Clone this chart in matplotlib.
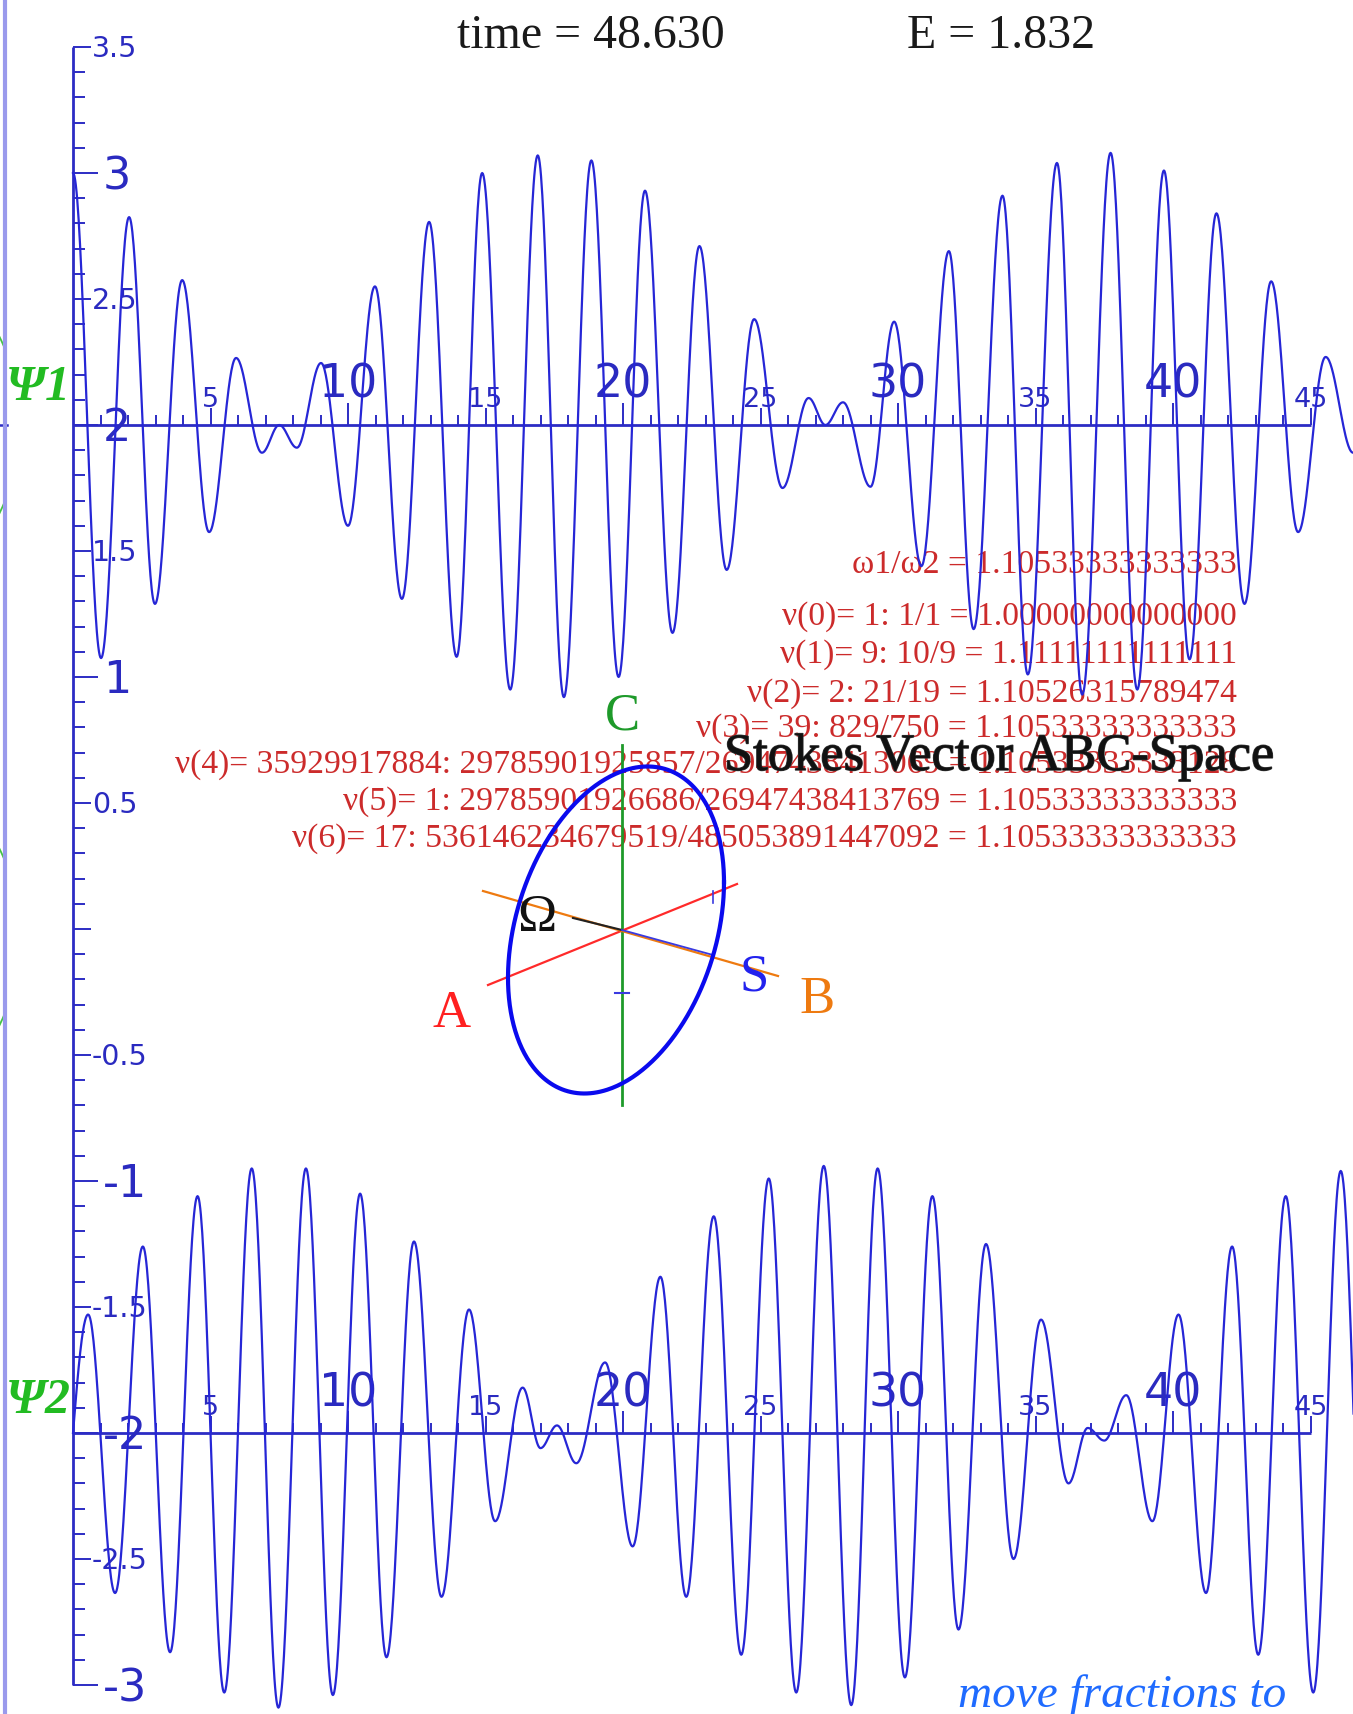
import numpy as np
import matplotlib
matplotlib.use("Agg")
import matplotlib.pyplot as plt
from matplotlib import transforms
from matplotlib import patheffects

W, H, DPI = 1353, 1714, 100

# ---------------- data ----------------
# Psi-1 trace: successive local extrema (time, amplitude)
psi1_t = [0.0, 1.02, 2.04, 2.98, 3.97, 4.95, 5.93, 6.87, 7.5, 8.14, 9.02, 10.0,
          10.98, 11.96, 12.95, 13.95, 14.88, 15.9, 16.9, 17.85, 18.85, 19.84,
          20.8, 21.8, 22.78, 23.77, 24.77, 25.8, 26.75, 27.36, 28.0, 29.0,
          29.86, 30.85, 31.85, 32.75, 33.8, 34.72, 35.78, 36.7, 37.73, 38.7,
          39.67, 40.6, 41.58, 42.6, 43.57, 44.55, 45.55, 46.55]
psi1_v = [3.0, 1.075, 2.825, 1.29, 2.575, 1.575, 2.266, 1.89, 2.0, 1.91, 2.246, 1.60,
          2.55, 1.31, 2.806, 1.08, 3.0, 0.95, 3.07, 0.92, 3.05, 1.0,
          2.93, 1.175, 2.71, 1.425, 2.42, 1.75, 2.107, 2.0, 2.09, 1.755,
          2.41, 1.44, 2.69, 1.19, 2.91, 1.01, 3.04, 0.93, 3.08, 0.95,
          3.01, 1.07, 2.84, 1.29, 2.57, 1.575, 2.27, 1.89]

# Psi-2 trace: starts on its centre line, then successive local extrema
psi2_t = [0.0, 0.55, 1.53, 2.54, 3.53, 4.53, 5.5, 6.5, 7.47, 8.47, 9.45, 10.44,
          11.4, 12.4, 13.4, 14.4, 15.35, 16.35, 17.0, 17.6, 18.3, 19.35, 20.35,
          21.36, 22.3, 23.3, 24.3, 25.3, 26.3, 27.3, 28.3, 29.26, 30.25, 31.25,
          32.2, 33.2, 34.2, 35.2, 36.2, 36.9, 37.5, 38.3, 39.25, 40.2, 41.2,
          42.15, 43.1, 44.1, 45.1, 46.1, 47.08]
psi2_v = [-2.0, -1.53, -2.635, -1.26, -2.87, -1.06, -3.03, -0.95, -3.09, -0.95, -3.04, -1.05,
          -2.89, -1.24, -2.65, -1.51, -2.35, -1.82, -2.06, -1.97, -2.12, -1.72, -2.45,
          -1.38, -2.65, -1.14, -2.88, -0.99, -3.03, -0.94, -3.08, -0.95, -2.97, -1.06,
          -2.78, -1.25, -2.5, -1.55, -2.2, -1.98, -2.03, -1.85, -2.35, -1.53, -2.635,
          -1.26, -2.88, -1.06, -3.03, -0.96, -3.05]

# axis tick values
ytick_big = [3, 2, 1, -1, -2, -3]
ytick_small = [3.5, 2.5, 1.5, 0.5, -0.5, -1.5, -2.5]
xtick_big = [10, 20, 30, 40]
xtick_small = [5, 15, 25, 35, 45]
t_max = 45
psi_centres = [2, -2]

# header readouts
time_now = 48.630
energy = 1.832

# frequency ratio and its continued-fraction convergents
freq_ratio = "1.10533333333333"
cf_index = [0, 1, 2, 3, 4, 5, 6]
cf_terms = [1, 9, 2, 39, 35929917884, 1, 17]
cf_num = [1, 10, 21, 829, 29785901925857, 29785901926686, 536146234679519]
cf_den = [1, 9, 19, 750, 26947438413069, 26947438413769, 485053891447092]

# Stokes-space picture (projected A, B, C axes, polarization ellipse, vectors)
axis_A = [(-1.34, -0.55), (1.15, 0.46)]
axis_B = [(-1.39, 0.39), (1.56, -0.46)]
axis_C = [(0.0, -1.75), (0.0, 1.85)]
ellipse_half = (1.08, 1.635)      # horizontal / vertical half-extent
ellipse_phase = np.deg2rad(73.0)  # phase lag between the two components
ellipse_centre = (-0.06, 0.0)
omega_vec = (-0.49, 0.12)
S_vec = (0.91, -0.25)
mark_plus = (0.91, 0.33)
mark_minus = (0.0, -0.63)

# ---------------- styling ----------------
SERIF = ['Liberation Serif', 'DejaVu Serif']
SANS = ['DejaVu Sans']
AXC = '#2c2cc4'
LBL = '#2a2ac0'
CURVE = '#2626d6'
RED = '#cc2b2b'
GREEN = '#22bb22'

X0, XPX = 73.0, 27.5     # pixel of t=0, pixels per time unit
Y3, YPX = 173.0, 252.0   # pixel of value 3, pixels per value unit
SMALL_Y = 20.5
SMALL_X = 19.5
BIG = 32


def trace(tk, vk, start_on_line=False, n=40):
    ts, vs = [], []
    for i in range(len(tk) - 1):
        s = np.linspace(0, 1, n, endpoint=False)
        if i == 0 and start_on_line:
            w = np.sin(np.pi * s / 2)
        else:
            w = (1 - np.cos(np.pi * s)) / 2
        ts.append(tk[i] + s * (tk[i + 1] - tk[i]))
        vs.append(vk[i] + w * (vk[i + 1] - vk[i]))
    ts.append([tk[-1]])
    vs.append([vk[-1]])
    return np.concatenate(ts), np.concatenate(vs)


fig = plt.figure(figsize=(W / DPI, H / DPI), dpi=DPI)
fig.patch.set_facecolor('white')
pix = transforms.Affine2D().scale(1 / W, -1 / H).translate(0, 1) + fig.transFigure

ax = fig.add_axes([0, 0, 1, 1])
ax.set_xlim(-X0 / XPX, (W - X0) / XPX)
ax.set_ylim(3 - (H - Y3) / YPX, 3 + Y3 / YPX)
ax.axis('off')

# left frame line of the neighbouring panel, with the edges of its green curves
th = np.linspace(-0.7, 0.7, 600)
for cy in (425, 937):
    gx = -180 + 200 * np.cos(th)
    gy = cy + 200 * np.sin(th)
    gx = np.where(gx <= 5, gx, np.nan)
    ax.plot(gx, gy, transform=pix, color='#44c444', lw=1.3, zorder=1)
ax.plot([0, 7], [425, 425], transform=pix, color=AXC, lw=1.8, zorder=2)
ax.plot([5, 5], [0, H], transform=pix, color='#9a9aec', lw=3.0, zorder=3)

# ---- vertical axis with ticks every 0.1 ----
ax.plot([0, 0], [-3, 3.5], color=AXC, lw=2.0, zorder=4, solid_capstyle='butt')
for v in np.round(np.arange(-3.0, 3.5001, 0.1), 1):
    if abs(v - round(v)) < 1e-6 and v != 0:
        L = 25
    elif abs(v * 2 - round(v * 2)) < 1e-6:
        L = 18
    else:
        L = 12
    ax.plot([0, L / XPX], [v, v], color=AXC, lw=1.4, zorder=4, solid_capstyle='butt')

big_px = BIG * DPI / 72
small_px = SMALL_Y * DPI / 72
for v in ytick_small:
    ax.annotate(f"{v:g}", xy=(0, v), xytext=(19, -0.365 * small_px),
                textcoords='offset pixels', ha='left', va='baseline',
                fontsize=SMALL_Y, family=SANS, color=LBL, zorder=5)
for v in ytick_big:
    ax.annotate(f"{v:d}", xy=(0, v), xytext=(30, -0.365 * big_px),
                textcoords='offset pixels', ha='left', va='baseline',
                fontsize=BIG, family=SANS, color=LBL, zorder=5)

# ---- the two time axes ----
for c in psi_centres:
    ax.plot([0, t_max], [c, c], color=AXC, lw=2.0, zorder=4, solid_capstyle='butt')
    for t in range(1, t_max + 1):
        L = 22 if t % 10 == 0 else (17 if t % 5 == 0 else 10)
        ax.plot([t, t], [c, c + L / YPX], color=AXC, lw=1.4, zorder=4,
                solid_capstyle='butt')
    for t in xtick_small:
        ax.annotate(str(t), xy=(t, c), xytext=(0, 18), textcoords='offset pixels',
                    ha='center', va='baseline', fontsize=SMALL_X, family=SANS,
                    color=LBL, zorder=5)
    for t in xtick_big:
        ax.annotate(str(t), xy=(t, c), xytext=(0, 27), textcoords='offset pixels',
                    ha='center', va='baseline', fontsize=33, family=SANS,
                    color=LBL, zorder=5)

# ---- oscillator traces ----
t1, v1 = trace(psi1_t, psi1_v)
t2, v2 = trace(psi2_t, psi2_v, start_on_line=True)
ax.plot(t1, v1, color=CURVE, lw=1.6, zorder=6)
ax.plot(t2, v2, color=CURVE, lw=1.6, zorder=6)

for c, name in zip(psi_centres, ["\u03a81", "\u03a82"]):
    ax.annotate(name, xy=(0, c), xytext=(-2, 25 if c > 0 else 20),
                textcoords='offset pixels', ha='right', va='baseline',
                fontsize=36, family=SERIF, style='italic', weight='bold',
                color=GREEN, zorder=5)

# ---- header ----
ax.text(457, 48, f"time = {time_now:.3f}", transform=pix, ha='left', va='baseline',
        fontsize=34.5, family=SERIF, color='#1a1a1a', zorder=8)
ax.text(907, 48, f"E = {energy:.3f}", transform=pix, ha='left', va='baseline',
        fontsize=34.5, family=SERIF, color='#1a1a1a', zorder=8)

# ---- continued-fraction readout ----
lines = ["\u03c91/\u03c92 = " + freq_ratio]
for i, a, p, q in zip(cf_index, cf_terms, cf_num, cf_den):
    lines.append(f"\u03bd({i})= {a}: {p}/{q} = {p / q:.14f}")
baselines = [573, 625, 663, 702, 737, 773, 810, 847]
for s, yb in zip(lines, baselines):
    ax.text(1237, yb, s, transform=pix, ha='right', va='baseline', fontsize=24.2,
            family=SERIF, color=RED, zorder=3)

ax.text(958, 1707, "move fractions to", transform=pix, ha='left', va='baseline',
        fontsize=34, family=SERIF, style='italic', color='#1f6bff', zorder=8)

# ---- Stokes vector picture ----
sax = fig.add_axes([420 / W, 1 - 1130 / H, 440 / W, 450 / H], zorder=3)
sax.set_xlim(-2.02, 2.38)
sax.set_ylim(-2.0, 2.5)
sax.axis('off')
sax.patch.set_visible(False)

sax.plot(*zip(*axis_C), color='#1e9a2a', lw=2.0, zorder=2)
sax.plot(*zip(*axis_A), color='#ff2a2a', lw=1.6, zorder=2)
sax.plot(*zip(*axis_B), color='#ee7a10', lw=1.6, zorder=2)
sax.plot([0, omega_vec[0]], [0, omega_vec[1]], color='#222222', lw=1.5, zorder=3)
sax.plot([0, S_vec[0]], [0, S_vec[1]], color='#3a3ae0', lw=1.3, zorder=3)

th = np.linspace(0, 2 * np.pi, 400)
ex = ellipse_centre[0] + ellipse_half[0] * np.cos(th)
ey = ellipse_centre[1] + ellipse_half[1] * np.cos(th + ellipse_phase)
sax.plot(ex, ey, color='#0a0aee', lw=3.0, zorder=4)

sax.plot([mark_plus[0], mark_plus[0]], [mark_plus[1] - 0.06, mark_plus[1] + 0.06],
         color='#3a3ae0', lw=1.2, zorder=4)
sax.plot([mark_minus[0] - 0.07, mark_minus[0] + 0.07], [mark_minus[1]] * 2,
         color='#3a3ae0', lw=1.5, zorder=4)

lab_px = 38 * DPI / 72
for s, (x, y), col in [("C", (0.0, 2.18), '#1e9a2a'), ("A", (-1.70, -0.80), '#ff2020'),
                       ("B", (1.95, -0.66), '#ee7a10'), ("S", (1.32, -0.43), '#2222ee'),
                       ("\u03a9", (-0.85, 0.16), '#111111')]:
    sax.annotate(s, xy=(x, y), xytext=(0, -0.331 * lab_px), textcoords='offset pixels',
                 ha='center', va='baseline', fontsize=38, family=SERIF, color=col,
                 zorder=5)

fig.text(724 / W, 1 - 770 / H, "Stokes Vector ABC-Space", ha='left', va='baseline',
         fontsize=37.8, family=SERIF, color='#111111', zorder=10,
         path_effects=[patheffects.withStroke(linewidth=1.0, foreground='#333333')])

fig.savefig("out.png", dpi=DPI)
